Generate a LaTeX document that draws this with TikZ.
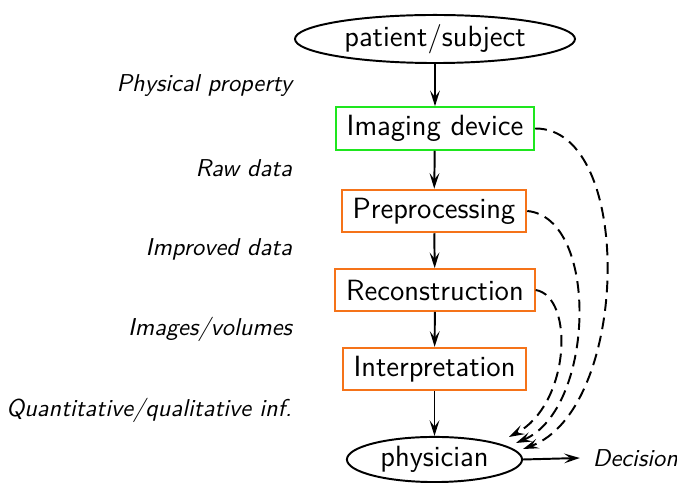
\documentclass[tikz,border=0pt]{standalone}
\usetikzlibrary{arrows.meta,shapes.geometric}
\definecolor{devgreen}{RGB}{30,230,30}
\definecolor{steporange}{RGB}{245,115,25}
\begin{document}
\begin{tikzpicture}[x=0.41pt,y=-0.41pt,
  line width=0.8pt,
  font=\sffamily,
  tip/.style={-{Stealth[length=6.4pt,width=4pt,inset=2.6pt]}},
  ell/.style={draw,ellipse,font=\sffamily\large,inner sep=0pt},
  procbox/.style={draw,rectangle,font=\sffamily\large,inner xsep=4.5pt,minimum height=17.2pt},
  lbl/.style={font=\sffamily\itshape,anchor=east,inner sep=0pt},
  dashline/.style={tip,dash pattern=on 4.8pt off 2.8pt}]
\useasboundingbox (0,0) rectangle (677,483);
\node[ell,minimum width=114.8pt,minimum height=19.7pt] (pat) at (435,39) {patient/subject};
\node[procbox,draw=devgreen] (img) at (435,128.5) {Imaging device};
\node[procbox,draw=steporange] (pre) at (434,211) {Preprocessing};
\node[procbox,draw=steporange] (rec) at (435,290) {Reconstruction};
\node[procbox,draw=steporange] (int) at (434.5,369) {Interpretation};
\node[ell,minimum width=71.8pt,minimum height=18.5pt] (phy) at (434.5,459.5) {physician};
\node[lbl] (l1) at (293,86) {Physical property};
\node[lbl] (l2) at (293,168) {Raw data};
\node[lbl] (l3) at (293,249) {Improved data};
\node[lbl] (l4) at (293,329) {Images/volumes};
\node[lbl] (l5) at (293,410) {Quantitative/qualitative inf.};
\node[font=\sffamily\itshape,anchor=west,inner sep=0pt] (dec) at (592,458) {Decision};
\draw[tip] (pat) -- (img);
\draw[tip] (img) -- (pre);
\draw[tip] (pre) -- (rec);
\draw[tip] (rec) -- (int);
\draw[tip] (int) -- (phy);
\draw[tip] (phy.east) -- ([xshift=-5pt]dec.west);
\coordinate (e1) at (523,449);
\coordinate (e2) at (516,443);
\coordinate (e3) at (509,437);
\draw[dashline] (img.east) .. controls (635,128) and (630,410) .. (e1);
\draw[dashline] (pre.east) .. controls (600,218) and (595,410) .. (e2);
\draw[dashline] (rec.east) .. controls (575,297) and (570,405) .. (e3);
\end{tikzpicture}
\end{document}
